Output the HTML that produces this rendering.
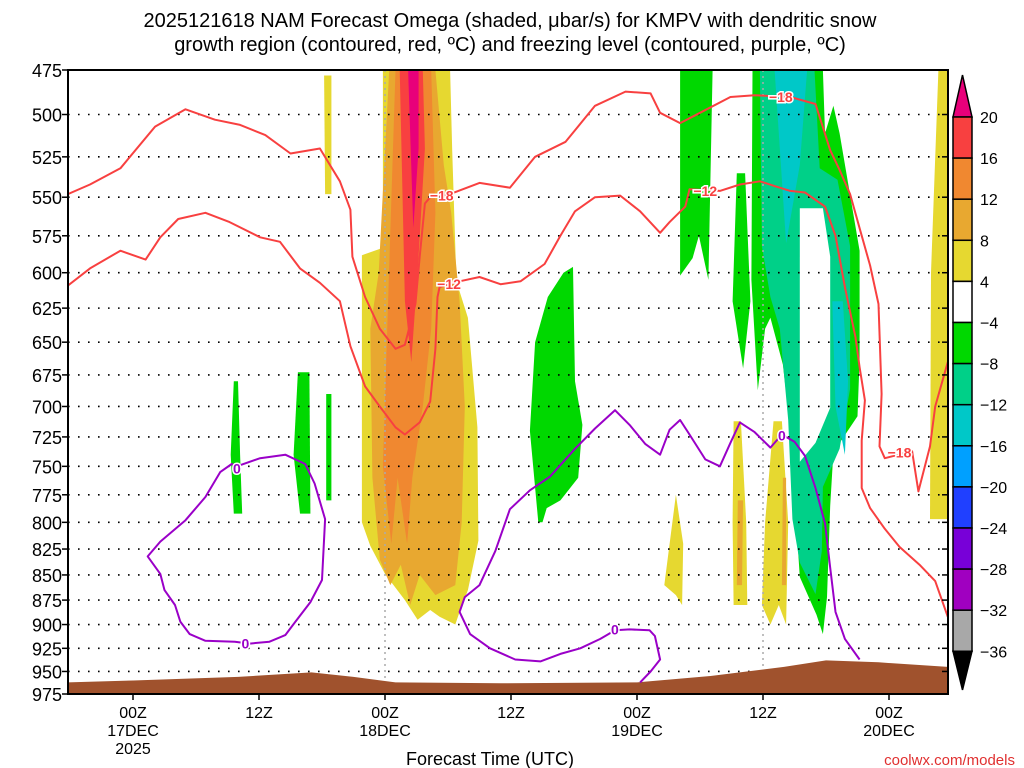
<!DOCTYPE html>
<html><head><meta charset="utf-8"><style>
body{margin:0;background:#fff;}
svg{display:block;font-family:"Liberation Sans","DejaVu Sans",sans-serif;}
</style></head><body>
<svg id="c" width="1024" height="768" viewBox="0 0 1024 768">
<text x="510" y="27" font-size="20" text-anchor="middle">2025121618 NAM Forecast Omega (shaded, μbar/s) for KMPV with dendritic snow</text>
<text x="510" y="51" font-size="20" text-anchor="middle">growth region (contoured, red, ºC) and freezing level (contoured, purple, ºC)</text>
<g id="plot"></g>
<text x="490" y="765" font-size="18" text-anchor="middle">Forecast Time (UTC)</text>
<text x="1015" y="765" font-size="15" fill="#e03030" text-anchor="end">coolwx.com/models</text>
</svg>
<script>
const pTicks=[475,500,525,550,575,600,625,650,675,700,725,750,775,800,825,850,875,900,925,950,975];
const xTickHours=[0,12,24,36,48,60,72];
const xTickLabels=[["00Z","17DEC","2025"],["12Z"],["00Z","18DEC"],["12Z"],["00Z","19DEC"],["12Z"],["00Z","20DEC"]];
const cbLevels=[20,16,12,8,4,-4,-8,-12,-16,-20,-24,-28,-32,-36];
const cbColors=["#f84040","#f08830","#e8a830","#e6d830","#ffffff","#00d800","#00d088","#00c8c8","#00a0ff","#2040ff","#7800d8","#a000c0","#a8a8a8"];
const shadeYellow1=[[23.8,475],[23.8,583],[21.8,588],[21.8,800],[22.6,822],[24,849],[25.9,875],[27.1,895],[28.3,885],[29.2,892],[30.7,900],[31.1,887],[31.9,865],[32.9,817],[32.8,717],[31.9,632],[30.8,606],[30.4,521],[30.2,475]];
const shadeGold1=[[24.4,475],[23.4,600],[22.6,640],[22.8,760],[23.5,835],[24.5,860],[25.5,840],[26.4,880],[27.3,850],[28.8,870],[30.7,860],[31.3,800],[31.6,700],[31.1,620],[30.3,560],[29.6,530],[28.8,475]];
const shadeOrange1=[[25,475],[24.3,620],[23.8,750],[24.6,820],[25.2,760],[26.1,820],[26.6,760],[27.6,700],[28.4,640],[28.8,560],[28.4,475]];
const shadeRed1=[[25.4,475],[25.9,620],[26.5,665],[27.1,600],[27.8,520],[27.6,475]];
const shadeMag1=[[26.2,475],[26.7,570],[27.2,520],[27.2,475]];
const shadeYellow2=[[18.2,478],[18.3,548],[18.9,548],[18.9,478]];
const shadeGreenA=[[9.6,680],[9.3,740],[9.6,792],[10.4,792],[10.2,740],[10,680]];
const shadeGreenB=[[15.7,673],[15.3,740],[15.9,792],[16.9,792],[16.8,673]];
const shadeGreenC=[[18.4,690],[18.4,780],[18.9,780],[18.9,690]];
const shadeGreenD=[[38.6,800],[37.8,720],[38.3,650],[39.5,617],[41,600],[41.9,596],[42.1,680],[42.8,715],[42.4,760],[40.7,780],[39.4,787],[39,800]];
const shadeGreenE=[[52.1,475],[52.1,602],[53.3,590],[53.9,575],[54.8,605],[55.2,475]];
const shadeGreenF=[[57.5,535],[57.1,620],[58.1,670],[58.8,620],[58.3,535]];
const shadeGreenG=[[59,475],[58.9,605],[59.5,687],[60.2,640],[60.7,632],[61.9,667],[62.6,719],[63,776],[63.5,852],[65.1,890],[65.7,910],[66.1,872],[66.4,785],[66.7,738],[69,708],[69.2,663],[69.2,585],[67.3,511],[66.7,495],[65.9,511],[65.7,475]];
const shadeTeal=[[59.7,475],[59.9,582],[60.7,617],[61.6,640],[62.4,711],[62.8,797],[63.5,838],[65,869],[65.6,827],[65.7,768],[67.3,735],[68.3,686],[68.3,582],[67.1,539],[65.4,532],[64.9,475]];
const shadeCyan1=[[61.1,475],[62.2,580],[63.5,530],[64.2,475]];
const shadeCyan2=[[66.6,620],[66.9,700],[67.8,740],[68.1,680],[67.6,620]];
const shadeHole=[[63.5,557],[63.5,746],[65,730],[66.4,701],[66.4,589],[65.7,557]];
const shadeYellow3=[[51.7,775],[50.6,860],[51.7,870],[52.3,880],[52.4,820]];
const shadeYellow4=[[57.2,712],[57.1,800],[57.2,880],[58.5,880],[58.4,800],[57.9,712]];
const shadeYellow5=[[61,712],[60.2,800],[59.9,880],[60.7,900],[61.5,880],[62.2,900],[62.4,800],[61.8,712]];
const shadeGold2=[[57.6,780],[57.5,860],[58,860],[58.1,780]];
const shadeGold3=[[61.9,760],[61.8,860],[62.2,860],[62.2,760]];
const shadeYellow6=[[76.7,475],[76,600],[75.9,797],[77.6,797],[77.6,475]];
const shades=[[4,shadeYellow1],[3,shadeGold1],[2,shadeOrange1],[1,shadeRed1],[0,shadeMag1],[4,shadeYellow2],
[6,shadeGreenA],[6,shadeGreenB],[6,shadeGreenC],[6,shadeGreenD],[6,shadeGreenE],[6,shadeGreenF],[6,shadeGreenG],
[7,shadeTeal],[8,shadeCyan1],[8,shadeCyan2],[5,shadeHole],[4,shadeYellow3],[4,shadeYellow4],[4,shadeYellow5],[3,shadeGold2],[3,shadeGold3],[4,shadeYellow6]];
const shadeColors=["#e8007a","#f84040","#f08830","#e8a830","#e6d830","#ffffff","#00d800","#00d088","#00c8c8"];
const red18=[[-6.2,548],[-4.1,542],[-1.2,532],[2.1,507],[5,497],[7.8,503],[10.2,506],[12.6,512],[15,523],[17.8,520],[19.7,540],[20.7,558],[20.9,589],[22.1,617],[23.5,640],[25,655],[25.9,652],[26.9,622],[27.3,589],[27.8,554],[28.3,550],[29.2,549],[30.2,548],[33,541],[35.9,544],[38.3,525],[41.2,516],[44,495],[46.9,487],[49.3,488],[50.2,499],[52.1,505],[54,499],[56.9,490],[59.2,489],[62.6,490],[65,494],[66.4,521],[67.3,533],[68.3,548],[69.2,570],[70.2,595],[71,622],[71.3,690],[71.1,733],[71.6,743],[74.2,737],[74.8,772],[75.9,733],[76.4,700],[77.6,665]];
const red12=[[-6.2,609],[-4.1,597],[-1.2,585],[1.2,591],[2.6,576],[4.3,564],[6.9,560],[9.2,566],[12.1,576],[14,579],[15.9,597],[17.8,607],[19.7,620],[20.7,653],[22.1,684],[23.5,700],[25,717],[25.9,723],[27.3,713],[28.3,696],[28.8,655],[29,617],[29.2,610],[31.1,606],[33,603],[35,608],[36.9,606],[39.2,594],[40.7,575],[42.1,559],[44,550],[46.4,549],[48.3,559],[50.2,573],[51.1,566],[52.6,556],[53,545],[55.9,546],[57.8,542],[59.7,540],[61.1,543],[62.6,546],[64,547],[65.9,556],[66.9,575],[67.8,610],[68.8,646],[69.2,669],[69.7,695],[69.4,728],[69.4,769],[70.2,787],[71.6,806],[73,823],[74.9,840],[76.4,856],[77.6,892]];
const purpleLeft=[[9.9,750],[12.1,743],[14.5,740],[16.4,748],[17.3,765],[18.3,797],[18,855],[16.9,877],[15.4,898],[14.5,911],[13,918],[11.1,920],[9.7,918],[6.9,917],[5.4,910],[4.5,897],[4,880],[3,865],[2.6,849],[1.4,832],[2.6,818],[5,798],[6.9,777],[8.3,755],[9.4,748],[9.9,750]];
const purpleRight=[[69.2,937],[67.8,915],[66.9,887],[66.4,843],[65.9,801],[65,769],[64,741],[63,729],[61.8,723],[60.7,734],[59.2,721],[57.8,713],[56.9,730],[55.9,750],[54.5,744],[53,723],[52.1,711],[51.1,719],[50.2,740],[48.8,731],[47.3,715],[45.9,703],[44,718],[42.1,735],[39.7,759],[37.8,771],[35.9,788],[34.5,827],[33,860],[31.6,872],[31.1,887],[32.1,910],[34,925],[36.4,937],[38.8,939],[40.7,931],[42.6,925],[44.5,915],[45.9,906],[47.3,905],[49.2,906],[49.7,912],[50.2,937],[49.3,950],[48.3,962]];
const contours=[["#f84040",red18,"red-18-contour"],["#f84040",red12,"red-12-contour"],["#9a00c8",purpleLeft,"freezing-level-left"],["#9a00c8",purpleRight,"freezing-level-right"]];
const contourLabels=[["−18",29.4,549,"#f84040"],["−12",30.1,608,"#f84040"],["−12",54.5,546,"#f84040"],["−18",61.7,490,"#f84040"],["−18",73,738,"#f84040"],["0",9.9,752,"#9a00c8"],["0",10.7,920,"#9a00c8"],["0",45.9,905,"#9a00c8"],["0",61.8,724,"#9a00c8"]];
const terrain=[[-6.2,962],[0,960],[10,956],[17,951],[21,956],[25,962],[35,963],[48,962],[55,955],[62,945],[66,938],[71,940],[77.6,945]];

const X0=68,X1=948,Y0=70,Y1=694;
const xs=h=>133+h*10.5;
const ys=p=>Y0+(Y1-Y0)*Math.log(p/475)/Math.log(975/475);
const NS="http://www.w3.org/2000/svg";
const svgEl=document.getElementById('c');
const plotG=document.getElementById('plot');
function mk(t,a,parent){const e=document.createElementNS(NS,t);for(const k in a)e.setAttribute(k,a[k]);(parent||plotG).appendChild(e);return e;}
const pts=arr=>arr.map(d=>xs(d[0]).toFixed(1)+","+ys(d[1]).toFixed(1)).join(" ");
const defsEl=mk('defs',{},svgEl);
const clipEl=mk('clipPath',{id:'clip'},defsEl);
mk('rect',{x:X0,y:Y0,width:X1-X0,height:Y1-Y0},clipEl);
const innerG=mk('g',{'clip-path':'url(#clip)'});


shades.forEach((s,i)=>{
  const e=mk('polygon',{points:pts(s[1]),fill:shadeColors[s[0]]},innerG);
  
  
});
pTicks.forEach(p=>{
  const e=mk('line',{x1:X0,x2:X1,y1:ys(p),y2:ys(p),stroke:'#000','stroke-width':1.6,'stroke-dasharray':'1.6 8.4'},innerG);
  
  
});
[24,60].forEach(h=>{
  const e=mk('line',{x1:xs(h),x2:xs(h),y1:Y0,y2:Y1,stroke:'#aaa','stroke-width':1.5,'stroke-dasharray':'2 4'},innerG);
  
  
});
const terrPts=[[terrain[0][0],975]].concat(terrain,[[terrain[terrain.length-1][0],975]]);
const terrEl=mk('polygon',{points:pts(terrPts),fill:'#a0522d'},innerG);


contours.forEach(c=>{
  const e=mk('polyline',{points:pts(c[1]),fill:'none',stroke:c[0],'stroke-width':2,'stroke-linejoin':'round'},innerG);
  
  
});
contourLabels.forEach(l=>{
  const e=mk('text',{x:xs(l[1]),y:ys(l[2])+5,'font-size':14,'font-weight':'bold',fill:l[3],'text-anchor':'middle',stroke:'#fff','stroke-width':3,'paint-order':'stroke'},innerG);
  e.textContent=l[0];
  
  
});
const frameEl=mk('rect',{x:X0,y:Y0,width:X1-X0,height:Y1-Y0,fill:'none',stroke:'#000','stroke-width':2});


pTicks.forEach(p=>{
  const t=mk('line',{x1:X0-6,x2:X0,y1:ys(p),y2:ys(p),stroke:'#000','stroke-width':1.5});
  
  
  const t2=mk('line',{x1:X1-6,x2:X1,y1:ys(p),y2:ys(p),stroke:'#000','stroke-width':1.5});
  
  
  const e=mk('text',{x:62,y:ys(p)+7,'font-size':18,'text-anchor':'end'});
  e.textContent=p;
  
  
});
xTickHours.forEach((h,i)=>{
  const t=mk('line',{x1:xs(h),x2:xs(h),y1:Y1,y2:Y1+6,stroke:'#000','stroke-width':1.5});
  
  
  xTickLabels[i].forEach((s,j)=>{
    const e=mk('text',{x:xs(h),y:718+j*18,'font-size':16,'text-anchor':'middle'});
    e.textContent=s;
    
    
  });
});
const CBX=953,CBW=19;
const cbPos=cbLevels.map((v,i)=>117+i*41.1);
const cbg=mk('g',{},svgEl);


const cbTopArrow=mk('polygon',{points:`${CBX},${cbPos[0]} ${CBX+CBW},${cbPos[0]} ${CBX+CBW/2},75`,fill:'#e8007a',stroke:'#000','stroke-width':1.5},cbg);


cbColors.forEach((c,i)=>{
  const e=mk('rect',{x:CBX,y:cbPos[i],width:CBW,height:cbPos[i+1]-cbPos[i],fill:c,stroke:'#000','stroke-width':1.5},cbg);
  
  
});
const cbBotArrow=mk('polygon',{points:`${CBX},${cbPos[13]} ${CBX+CBW},${cbPos[13]} ${CBX+CBW/2},690`,fill:'#000',stroke:'#000','stroke-width':1.5},cbg);


cbLevels.forEach((v,i)=>{
  const e=mk('text',{x:980,y:cbPos[i]+6,'font-size':16},cbg);
  e.textContent=(v<0?'−'+(-v):String(v));
  
  
});
</script>
</body></html>
